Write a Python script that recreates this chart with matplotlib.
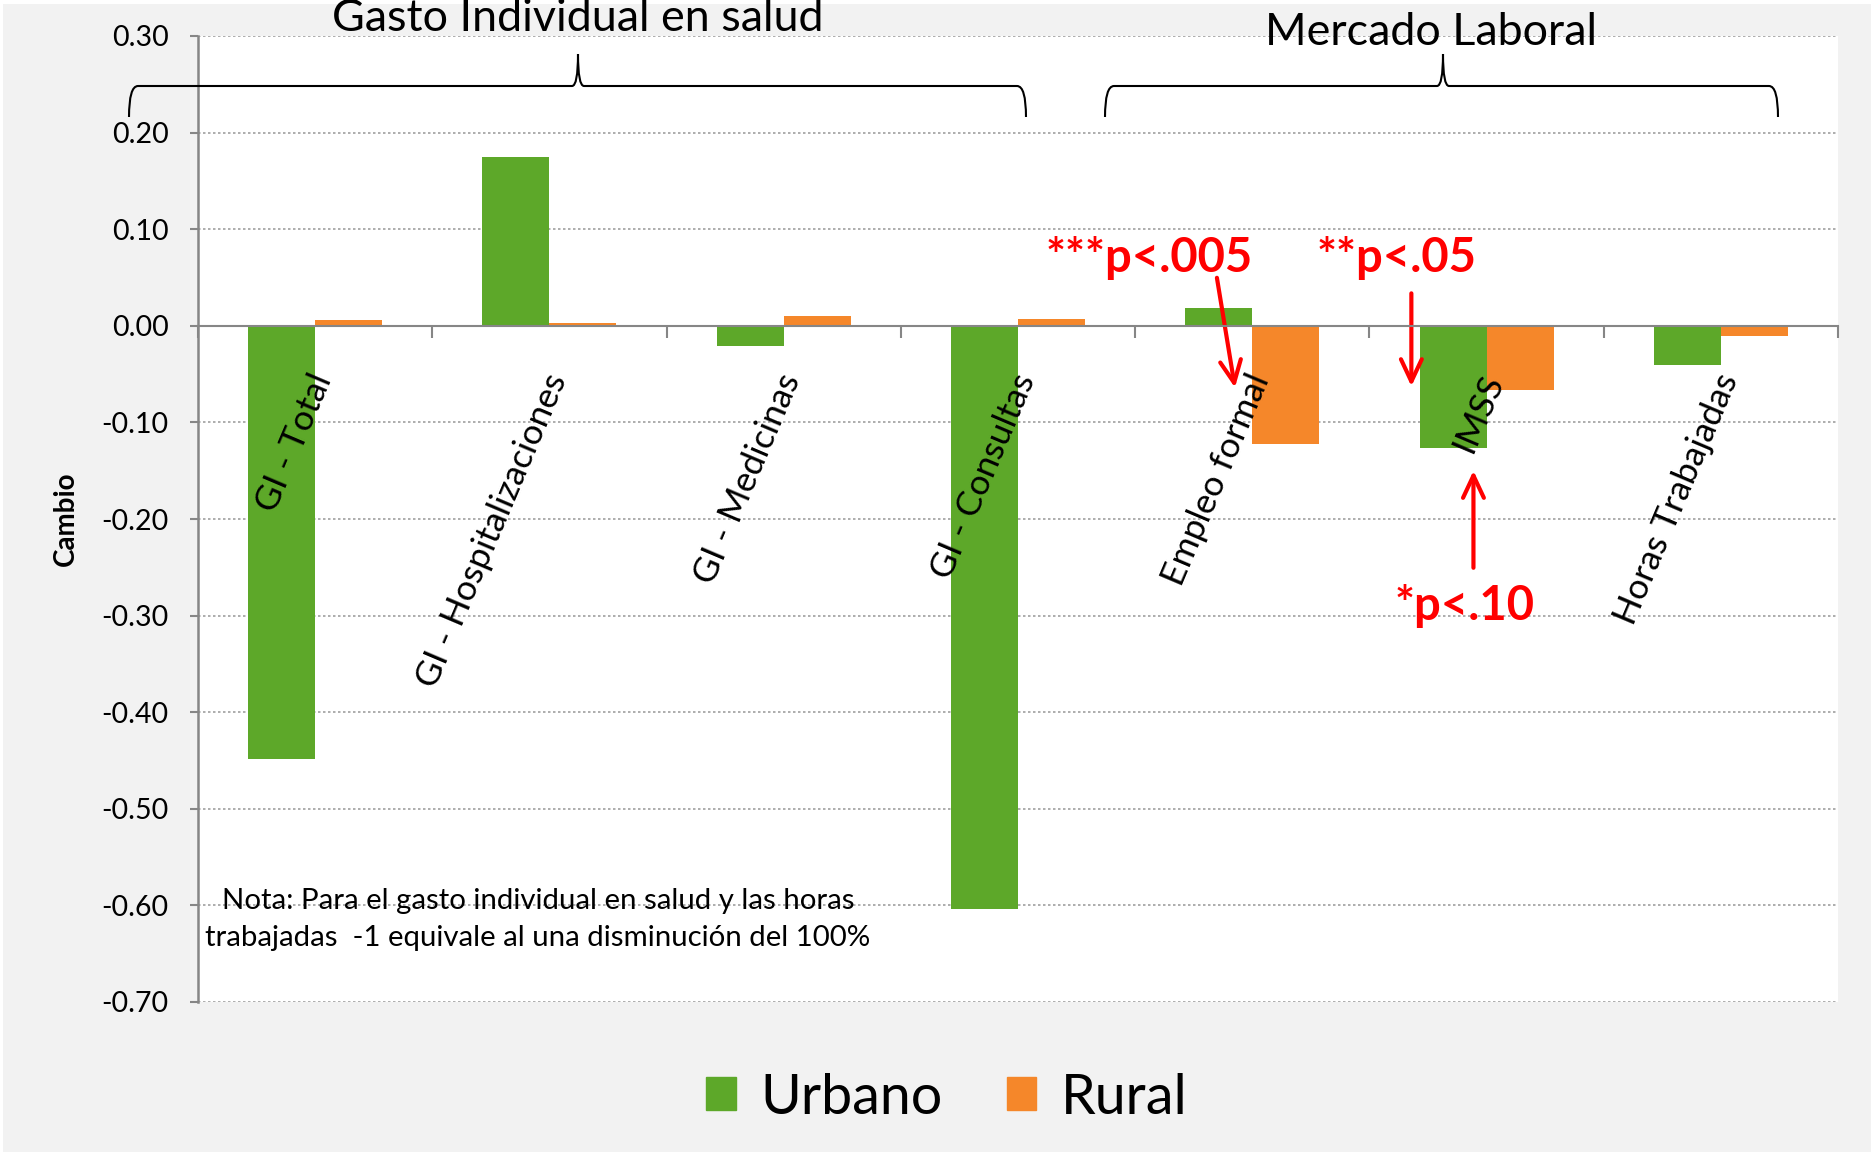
import numpy as np
import matplotlib
matplotlib.use('Agg')
import matplotlib.pyplot as plt
from matplotlib.path import Path
from matplotlib.patches import PathPatch, Rectangle

plt.rcParams['font.family'] = ['Lato', 'DejaVu Sans']

# data
categorias = ['GI - Total', 'GI - Hospitalizaciones', 'GI - Medicinas', 'GI - Consultas',
              'Empleo formal', 'IMSS', 'Horas Trabajadas']
urbano = [-0.448, 0.175, -0.021, -0.604, 0.018, -0.127, -0.041]
rural = [0.006, 0.003, 0.010, 0.007, -0.122, -0.066, -0.011]
series = ['Urbano', 'Rural']
yticks = [0.30, 0.20, 0.10, 0.00, -0.10, -0.20, -0.30, -0.40, -0.50, -0.60, -0.70]
ytick_labels = ['0.30', '0.20', '0.10', '0.00', '-0.10', '-0.20', '-0.30', '-0.40', '-0.50', '-0.60', '-0.70']
grupos = ['Gasto Individual en salud', 'Mercado Laboral']
nota = ['Nota: Para el gasto individual en salud y las horas',
        'trabajadas  -1 equivale al una disminución del 100%']

verde = '#5DA829'
naranja = '#F5872A'
gris = '#868686'

W, H = 1871, 1153
fig = plt.figure(figsize=(W / 100, H / 100), dpi=100)
fig.patch.set_facecolor('white')
fig.patches.append(Rectangle((3 / W, 1 / H), 1, 1 - 5 / H, transform=fig.transFigure,
                             facecolor='#F2F2F2', edgecolor='none', zorder=-10))

ax = fig.add_axes([198 / W, 1 - 1002 / H, 1640 / W, 966 / H])
ax.set_facecolor('white')
x = np.arange(len(categorias))
w = 1 / 3.5
ax.bar(x - w / 2, urbano, w, color=verde, label=series[0], zorder=2)
ax.bar(x + w / 2, rural, w, color=naranja, label=series[1], zorder=2)
ax.set_xlim(-0.5, len(categorias) - 0.5)
ax.set_ylim(-0.7, 0.3)

ax.set_yticks(yticks)
ax.set_yticklabels(ytick_labels)
ax.yaxis.grid(True, linestyle=(0, (1.5, 1.5)), color='#A0A0A0', lw=1.2)
ax.set_axisbelow(True)
ax.tick_params(axis='y', length=6, width=1.5, color=gris, pad=15, labelsize=20.5)

ax.spines['top'].set_visible(False)
ax.spines['right'].set_visible(False)
ax.spines['left'].set_color(gris)
ax.spines['left'].set_linewidth(1.8)
ax.spines['bottom'].set_position(('data', 0))
ax.spines['bottom'].set_color(gris)
ax.spines['bottom'].set_linewidth(1.5)
ax.spines['bottom'].set_zorder(3)
ax.set_xticks(np.arange(-0.5, len(categorias), 1))
ax.set_xticklabels([])
ax.tick_params(axis='x', length=8.5, width=1.5, color=gris, direction='out')

for i, c in enumerate(categorias):
    ax.text(i + 0.035, -0.051, c, rotation=67, rotation_mode='anchor',
            ha='right', va='center', fontsize=25.5, zorder=4)

# significance marks
ax.text(3.559, 0.0559, '***p<.005', color='red', fontsize=34, fontweight='bold', ha='center', va='baseline')
ax.text(4.616, 0.0559, '**p<.05', color='red', fontsize=34, fontweight='bold', ha='center', va='baseline')
ax.text(4.906, -0.3049, '*p<.10', color='red', fontsize=34, fontweight='bold', ha='center', va='baseline')
flecha = dict(arrowstyle='->,head_length=1.6,head_width=0.75', color='red', lw=3, shrinkA=0, shrinkB=0)
ax.annotate('', xy=(3.926, -0.064), xytext=(3.849, 0.0497), arrowprops=flecha)
ax.annotate('', xy=(4.679, -0.0627), xytext=(4.679, 0.0336), arrowprops=flecha)
ax.annotate('', xy=(4.944, -0.150), xytext=(4.944, -0.2505), arrowprops=flecha)

fig.text(66 / W, 1 - 519 / H, 'Cambio', rotation=90, fontweight='bold', fontsize=20,
         ha='center', va='center')

# overlay in pixel coordinates for braces, group titles and note
ov = fig.add_axes([0, 0, 1, 1], facecolor='none')
ov.set_xlim(0, W)
ov.set_ylim(H, 0)
ov.axis('off')


def llave(x0, x1, xt, yb=117, yh=86, yt=54, r=9, rt=6):
    verts = [(x0, yb), (x0, yh), (x0 + r, yh), (xt - rt, yh), (xt, yh), (xt, yt),
             (xt, yh), (xt + rt, yh), (x1 - r, yh), (x1, yh), (x1, yb)]
    codes = [Path.MOVETO, Path.CURVE3, Path.CURVE3, Path.LINETO, Path.CURVE3, Path.CURVE3,
             Path.CURVE3, Path.CURVE3, Path.LINETO, Path.CURVE3, Path.CURVE3]
    ov.add_patch(PathPatch(Path(verts, codes), facecolor='none', edgecolor='black', lw=1.5))


llave(129, 1026, 578)
llave(1105, 1778, 1443)
ov.text(578, 31, grupos[0], fontsize=32.3, ha='center', va='baseline')
ov.text(1431, 45, grupos[1], fontsize=32.3, ha='center', va='baseline')
ov.text(538, 909, nota[0], fontsize=21.2, ha='center', va='baseline')
ov.text(538, 946, nota[1], fontsize=21.2, ha='center', va='baseline')

handles = [Rectangle((0, 0), 1, 1, color=verde), Rectangle((0, 0), 1, 1, color=naranja)]
fig.legend(handles, series, loc='center', bbox_to_anchor=(947 / W, 1 - 1098 / H), ncol=2,
           frameon=False, fontsize=40, handlelength=0.53, handleheight=0.53,
           handletextpad=0.45, columnspacing=1.15)

fig.savefig('out.png', dpi=100, facecolor=fig.get_facecolor())
